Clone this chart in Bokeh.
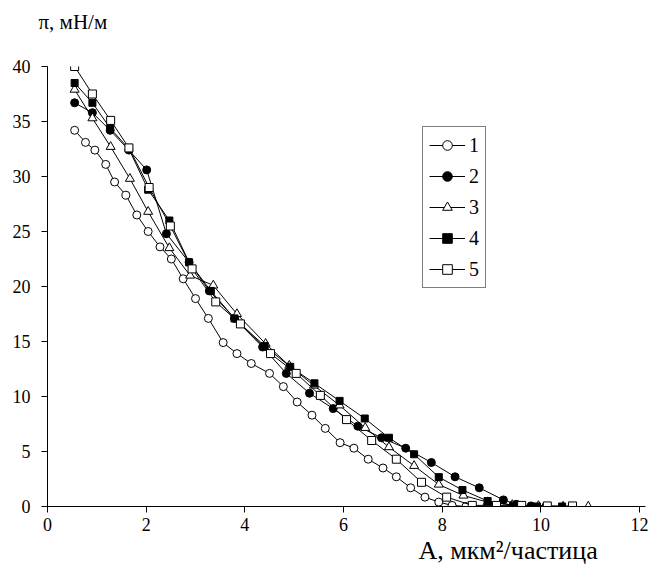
from bokeh.plotting import figure
from bokeh.models import Range1d, FixedTicker, Legend, LegendItem, Title
from bokeh.embed import file_html
from bokeh.resources import INLINE

s1_x = [0.55, 0.77, 0.96, 1.18, 1.36, 1.59, 1.81, 2.04, 2.28, 2.51, 2.75, 3.0, 3.26, 3.56, 3.84, 4.13,
        4.5, 4.78, 5.06, 5.36, 5.63, 5.93, 6.21, 6.5, 6.8, 7.07, 7.36, 7.65, 7.93, 8.2, 8.48]
s1_y = [34.2, 33.1, 32.4, 31.1, 29.5, 28.3, 26.5, 25.0, 23.6, 22.5, 20.7, 18.9, 17.1, 14.9, 13.9, 13.0,
        12.1, 10.9, 9.5, 8.3, 7.1, 5.8, 5.3, 4.3, 3.5, 2.7, 1.7, 0.85, 0.4, 0.1, 0.0]

s2_x = [0.55, 0.91, 1.27, 1.65, 2.01, 2.41, 2.87, 3.28, 3.79, 4.36, 4.84, 5.31, 5.79, 6.29, 6.77, 7.26,
        7.78, 8.26, 8.75, 9.24, 9.5, 9.8, 10.1]
s2_y = [36.7, 35.8, 34.2, 32.4, 30.6, 24.8, 22.2, 19.6, 17.1, 14.5, 12.1, 10.3, 8.9, 7.3, 6.25, 5.3,
        4.0, 2.7, 1.7, 0.6, 0.2, 0.05, 0.0]

s3_x = [0.55, 0.91, 1.28, 1.67, 2.04, 2.47, 2.89, 3.36, 3.84, 4.42, 4.9, 5.4, 5.92, 6.44, 6.92, 7.43,
        7.93, 8.43, 8.92, 9.42, 9.95, 10.45, 10.96]
s3_y = [37.9, 35.3, 32.7, 29.8, 26.8, 23.5, 21.0, 20.1, 17.5, 14.8, 12.8, 11.0, 9.2, 7.15, 5.4, 3.7,
        2.0, 1.0, 0.4, 0.15, 0.05, 0.0, 0.0]

s4_x = [0.55, 0.91, 1.27, 1.65, 2.04, 2.47, 2.87, 3.31, 3.79, 4.4, 4.92, 5.41, 5.92, 6.43, 6.92, 7.43,
        7.93, 8.41, 8.92, 9.44, 9.92, 10.43]
s4_y = [38.5, 36.7, 34.4, 32.5, 28.8, 26.0, 22.2, 19.6, 17.1, 14.6, 12.7, 11.2, 9.6, 8.0, 6.25, 4.75,
        2.67, 1.5, 0.5, 0.1, 0.0, 0.0]

s5_x = [0.55, 0.91, 1.28, 1.65, 2.06, 2.49, 2.93, 3.41, 3.91, 4.52, 5.04, 5.53, 6.06, 6.57, 7.07, 7.58,
        8.09, 8.61, 9.1, 9.61, 10.13, 10.64]
s5_y = [40.0, 37.5, 35.1, 32.6, 29.0, 25.5, 21.6, 18.6, 16.6, 13.9, 12.1, 10.1, 7.9, 6.0, 4.3, 2.2,
        0.85, 0.1, 0.1, 0.1, 0.05, 0.05]

series_labels = ["1", "2", "3", "4", "5"]
x_ticks = [0, 2, 4, 6, 8, 10, 12]
y_ticks = [0, 5, 10, 15, 20, 25, 30, 35, 40]

FONT = "Liberation Serif"

p = figure(width=649, height=569, output_backend="svg", toolbar_location=None,
           x_range=Range1d(0, 12.12), y_range=Range1d(0, 40),
           min_border_left=47, min_border_right=4, min_border_top=66, min_border_bottom=63)
p.outline_line_color = None
p.xgrid.visible = False
p.ygrid.visible = False

for ax, ticks in ((p.xaxis[0], x_ticks), (p.yaxis[0], y_ticks)):
    ax.ticker = FixedTicker(ticks=ticks)
    ax.minor_tick_line_color = None
    ax.major_tick_in = 0
    ax.major_tick_out = 6
    ax.axis_line_color = "black"
    ax.major_tick_line_color = "black"
    ax.major_label_text_font = FONT
    ax.major_label_text_font_size = "18px"
    ax.major_label_text_color = "black"
p.xaxis[0].major_label_standoff = 5
p.yaxis[0].major_label_standoff = 11

styles = [
    ("circle", "white", 8),
    ("circle", "black", 8),
    ("triangle", "white", 9),
    ("square", "black", 7),
    ("square", "white", 8),
]
data = [(s1_x, s1_y), (s2_x, s2_y), (s3_x, s3_y), (s4_x, s4_y), (s5_x, s5_y)]

items = []
for (xs, ys), (mk, fc, sz), lab in zip(data, styles, series_labels):
    lr = p.line(xs, ys, line_color="black", line_width=1)
    sr = p.scatter(xs, ys, marker=mk, size=sz, fill_color=fc, line_color="black", line_width=1)
    items.append(LegendItem(label=lab, renderers=[lr, sr]))

legend = Legend(items=items, location=(375, 218), orientation="vertical",
                label_text_font=FONT, label_text_font_size="20px", label_text_color="black",
                glyph_width=36, glyph_height=24, label_height=24, label_width=10, label_standoff=4,
                spacing=7, padding=6, margin=0,
                border_line_color="black", border_line_width=1,
                background_fill_color="white", background_fill_alpha=1)
p.add_layout(legend, "center")

# spacer (closest to the frame), then the axis title above it
p.add_layout(Title(text=" ", text_font_size="10px", standoff=20), "above")
p.add_layout(Title(text="π, мН/м", align="left", offset=-9, text_font=FONT,
                   text_font_size="21px", text_font_style="normal", text_color="black",
                   standoff=0), "above")
p.add_layout(Title(text="A, мкм²/частица", align="left", offset=371, text_font=FONT,
                   text_font_size="26px", text_font_style="normal", text_color="black",
                   standoff=0), "below")

open("out.html", "w").write(file_html(p, INLINE))
